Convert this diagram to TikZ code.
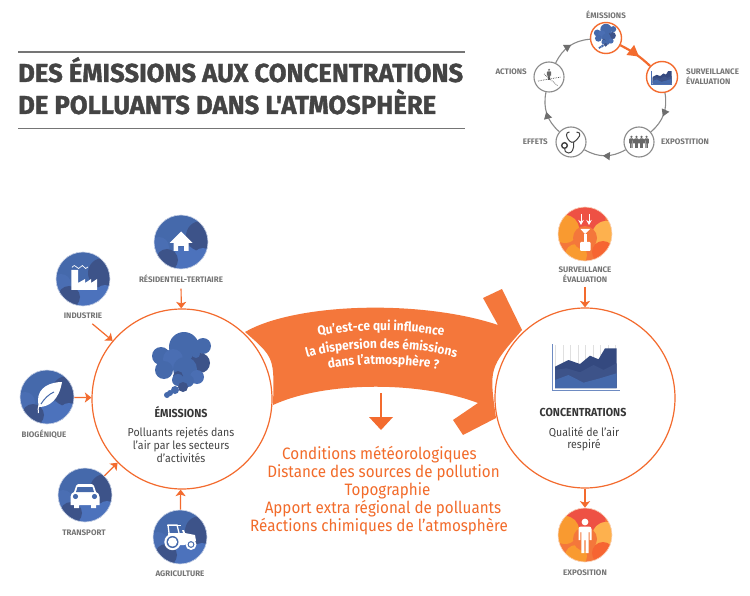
\documentclass[tikz,border=0pt]{standalone}
\usepackage{fontspec}
\setmainfont[FakeStretch=0.92]{Fira Sans}
\newfontfamily\titlefont[FakeStretch=0.987,BoldFeatures={FakeBold=1.4}]{Fira Sans}
\newfontfamily\capfont[FakeStretch=1.0]{Fira Sans}
\usetikzlibrary{arrows.meta,decorations.text,decorations.markings}
\definecolor{orline}{HTML}{F36B2E}
\definecolor{orfill}{HTML}{F4773B}
\definecolor{ortext}{HTML}{F26B2A}
\definecolor{bbase}{HTML}{4569AB}
\definecolor{bdark}{HTML}{3D5389}
\definecolor{bmid}{HTML}{4A6EB3}
\definecolor{blight}{HTML}{4C72BC}
\definecolor{bnavy}{HTML}{34497F}
\definecolor{greytext}{HTML}{757575}
\definecolor{darktext}{HTML}{444444}
\definecolor{ringgrey}{HTML}{8A8A8A}
\definecolor{orred}{HTML}{EE5144}
\definecolor{oramber}{HTML}{F99A30}
\definecolor{orsoft}{HTML}{FDB14E}
\definecolor{orhalo}{HTML}{FBD9C2}
\newcommand\bluepatches{%
  \fill[bmid] (-22,5) circle (10);
  \fill[blight] (5,17) circle (13);
  \fill[bdark] (-14,18) circle (11);
  \fill[bdark] (20,-6) circle (15);
  \fill[bbase] (-8,-20) circle (13);
  \fill[blight] (22,16) circle (10);
}
\newcommand\orangepatches{%
  \fill[orred] (0,-20) circle (21);
  \fill[oramber] (-20,-5) circle (14);
  \fill[orsoft] (21,1) circle (14);
  \fill[orfill!85!red] (18,18) circle (11);
  \fill[oramber] (-9,21) circle (11);
  \fill[orfill] (0,4) circle (12);
}
\newcommand\personfig{%
  \fill (0,-13) circle (3.4);
  \fill (-4,-8.5) -- (4,-8.5) .. controls (5.5,-8.5) and (6.5,-7.5) .. (6.5,-6) -- (6.5,5) -- (4.6,5) -- (4.6,-3) -- (3.6,-3) -- (3.6,18) -- (0.6,18) -- (0.6,5) -- (-0.6,5) -- (-0.6,18) -- (-3.6,18) -- (-3.6,-3) -- (-4.6,-3) -- (-4.6,5) -- (-6.5,5) -- (-6.5,-6) .. controls (-6.5,-7.5) and (-5.5,-8.5) .. (-4,-8.5) -- cycle;
}
\newcommand\cloudfig{%
  \fill[bbase] (-23,-8) circle (9);
  \fill[bbase] (0,-17) circle (15);
  \fill[bbase] (19,-18) circle (8);
  \fill[bmid] (-11,-5) circle (10);
  \fill[bbase] (-20,6) circle (9);
  \fill[bdark] (16,-1) circle (10);
  \fill[bbase] (12,-10) circle (4);
  \fill[bbase] (1,5) circle (12);
  \fill[bmid] (13,13) circle (7);
  \fill[bdark] (-6,12) circle (5);
  \fill[bbase] (-6,16) circle (6);
  \fill[bbase] (4,17) circle (6);
  \fill[bdark] (-1,23) circle (5);
  \fill[bbase] (-9,26) circle (4);
  \fill[bbase] (-14,29) circle (3);
  \fill[bbase] (-17,31) circle (3);
}
\newcommand\chartareas{%
  \fill[bnavy] (-30.5,-0.3) -- (-17,-7) -- (-5.5,-3) -- (4.5,-11.3) -- (13,-7.7) -- (19.5,-18.7) -- (31,-18.7) -- (31,21) -- (-30.5,21) -- cycle;
  \fill[bdark] (-30.5,3) -- (-19,1.3) -- (-5.5,5.3) -- (8,-2) -- (18,3) -- (31,-3.7) -- (31,21) -- (-30.5,21) -- cycle;
  \fill[bbase] (-30.5,13) -- (-17,8) -- (-2,15.7) -- (14.5,11.3) -- (31,6.3) -- (31,21) -- (-30.5,21) -- cycle;
}
\tikzset{
  bluedisc/.style={circle,minimum size=54pt,inner sep=0pt,fill=bbase,draw=bbase!25!white,line width=0.6pt,
    path picture={\begin{scope}[shift={(path picture bounding box.center)}]\bluepatches\end{scope}}},
  orangedisc/.style={circle,minimum size=54pt,inner sep=0pt,fill=orfill,draw=orhalo,line width=0.6pt,
    path picture={\begin{scope}[shift={(path picture bounding box.center)}]\orangepatches\end{scope}}},
  bigring/.style={circle,minimum size=180pt,inner sep=0pt,draw=orline,line width=1.2pt},
  arr/.style={draw=orline,line width=1.2pt,-{Stealth[length=6.5pt,width=10pt,inset=1.5pt]}},
  caplabel/.style={font=\fontsize{8}{10}\capfont\bfseries\selectfont,text=greytext,inner sep=1.5pt,align=center},
  minilabel/.style={font=\fontsize{8}{10}\capfont\bfseries\selectfont,text=greytext,inner sep=0pt,align=left},
  minigrey/.style={circle,minimum size=30pt,inner sep=0pt,draw=ringgrey,fill=white,line width=1.1pt},
  miniorange/.style={circle,minimum size=31pt,inner sep=0pt,draw=orline,fill=white,line width=1.4pt},
  minilink/.style={draw=ringgrey,line width=1.1pt,postaction=decorate,decoration={markings,
    mark=at position 0.55 with {\arrow[ringgrey!80!black]{Triangle[length=7pt,width=8pt]}}}},
  minihot/.style={draw=orline,line width=2.2pt,postaction=decorate,decoration={markings,
    mark=at position 0.6 with {\arrow[orline]{Triangle[length=11pt,width=12pt]}}}},
  oline/.style={anchor=base,font=\fontsize{16.5}{18}\selectfont,text=ortext,inner sep=0pt},
  bodytext/.style={font=\fontsize{11.5}{12.7}\selectfont,text=darktext,align=center,inner sep=0pt},
  headtext/.style={font=\fontsize{11.6}{12}\selectfont\bfseries,text=darktext!80!black,inner sep=0pt},
  titleline/.style={anchor=base west,font=\fontsize{26}{30}\titlefont\bfseries\selectfont,text=darktext,inner sep=0pt},
}
\newcommand\bandfont{\color{white}\fontsize{13}{15}\selectfont\bfseries}
\begin{document}
\begin{tikzpicture}[x=1pt,y=-1pt]
\useasboundingbox (0,0) rectangle (750,596);
\fill[white] (0,0) rectangle (750,596);
% title
\draw[greytext,line width=1.4pt] (18,52) -- (465,52);
\draw[greytext,line width=1.4pt] (18,128.5) -- (465,128.5);
\node[titleline] (t1) at (18,82) {DES ÉMISSIONS AUX CONCENTRATIONS};
\node[titleline] (t2) at (18,114) {DE POLLUANTS DANS L'ATMOSPHÈRE};
% mini cycle
\node[miniorange] (mE) at (606,38) {};
\node[miniorange] (mS) at (662,77) {};
\node[minigrey] (mX) at (639,142) {};
\node[minigrey] (mF) at (571,142) {};
\node[minigrey] (mA) at (549,77) {};
\draw[minihot] (mE) to[bend left=8] (mS);
\draw[minilink] (mS) to[bend left=30] (mX);
\draw[minilink] (mX) to[bend left=30] (mF);
\draw[minilink] (mF) to[bend left=30] (mA);
\draw[minilink] (mA) to[bend left=30] (mE);
\node[minilabel] (lE) at (606,15) {ÉMISSIONS};
\node[minilabel,anchor=west] (lS) at (686,77) {SURVEILLANCE\\ÉVALUATION};
\node[minilabel,anchor=west] (lX) at (661,142) {EXPOSTITION};
\node[minilabel,anchor=east] (lF) at (548,142) {EFFETS};
\node[minilabel,anchor=east] (lA) at (527,72) {ACTIONS};
\begin{scope}[shift={(606,36)},scale=0.38]\cloudfig\end{scope}
\begin{scope}[shift={(662,77)},scale=0.31]
  \chartareas
  \draw[bmid,line width=0.6pt] (-33,-20) -- (-33,22) -- (33,22);
\end{scope}
\begin{scope}[shift={(639,141.5)},scale=0.36,fill=darktext!80!white]
  \begin{scope}[shift={(-21,0)}]\personfig\end{scope}
  \begin{scope}[shift={(-7,0)}]\personfig\end{scope}
  \begin{scope}[shift={(7,0)}]\personfig\end{scope}
  \begin{scope}[shift={(21,0)}]\personfig\end{scope}
\end{scope}
% stethoscope
\begin{scope}[shift={(571.5,142)},draw=darktext,line width=1pt]
  \draw (-2,-10) .. controls (-6,-10) and (-6,-5) .. (-2,-1) .. controls (1,2) and (4,0) .. (8,-6) .. controls (9,-9) and (7,-10) .. (5,-10);
  \draw (2,0) .. controls (3,8) and (0,11) .. (-3,11) .. controls (-6,11) and (-7,9) .. (-7,6);
  \draw[line width=1.4pt,fill=white] (-7,3.5) circle (2.8);
\end{scope}
% actions icon
\begin{scope}[shift={(549,77)}]
  \begin{scope}[shift={(0,-3)},scale=0.32,fill=darktext!80!white]\personfig\end{scope}
  \draw[darktext,line width=0.7pt,densely dotted] (-11,4) -- (12,0);
  \draw[darktext,line width=0.7pt,densely dotted] (-5,-3) -- (9,9);
\end{scope}
% main circles
\node[bigring] (emis) at (182,399) {};
\node[bigring] (conc) at (585,398) {};
% band arrow
\fill[orfill] (245,332) .. controls (295,303) and (420,299) .. (498,325)
  -- (483,298) -- (502,289) -- (522,330)
  .. controls (489,368) .. (496,418)
  -- (463,435) -- (453,420) -- (478,403)
  .. controls (420,381) and (325,381) .. (273,405)
  .. controls (274.4,357.5) .. (245,332) -- cycle;
\path[decorate,decoration={text along path,text align=center,text={|\bandfont|Qu’est-ce qui influence}}]
  (309,338) .. controls (350,328) and (410,328) .. (453,338);
\path[decorate,decoration={text along path,text align=center,text={|\bandfont|la dispersion des émissions}}]
  (298,360) .. controls (345,344.5) and (415,344.5) .. (465,360);
\path[decorate,decoration={text along path,text align=center,text={|\bandfont|dans l’atmosphère ?}}]
  (320,371) .. controls (355,362) and (405,362) .. (447,371);
% down arrow
\coordinate (dTop) at (381,393);
\coordinate (dNeck) at (381,417);
\draw[orline,line width=1.3pt] (dTop) -- (dNeck);
\fill[orline] (369,417) -- (393,417) -- (381,430) -- cycle;
% source discs
\node[bluedisc] (res) at (181,242) {};
\node[bluedisc] (ind) at (83,279) {};
\node[bluedisc] (bio) at (47,397) {};
\node[bluedisc] (tra) at (85,495) {};
\node[bluedisc] (agr) at (180,537) {};
\node[caplabel] (lres) at (181,279) {RÉSIDENTIEL-TERTIAIRE};
\node[caplabel] (lind) at (83,316) {INDUSTRIE};
\node[caplabel] (lbio) at (44,434) {BIOGÉNIQUE};
\node[caplabel] (ltra) at (84,533) {TRANSPORT};
\node[caplabel] (lagr) at (180,574) {AGRICULTURE};
\draw[arr,shorten <=4pt] (lres) -- (emis);
\draw[arr,shorten <=5pt] (lind) -- (emis);
\draw[arr] (bio) -- (emis);
\draw[arr] (tra) -- (emis);
\draw[arr] (agr) -- (emis);
% house
\begin{scope}[shift={(181,242)},fill=white]
  \fill (0,-10.5) -- (11.5,1) -- (7.5,1) -- (7.5,9) -- (3,9) -- (3,4) -- (-3,4) -- (-3,9) -- (-7.5,9) -- (-7.5,1) -- (-11.5,1) -- cycle;
\end{scope}
% factory
\begin{scope}[shift={(83,279)}]
  \fill[white] (-11.7,-9) -- (-5,-9) -- (-5,4) -- (2,0) -- (2,4) -- (8,0) -- (8,4) -- (14,0) -- (14,11) -- (-11.7,11) -- cycle;
  \draw[white,line width=0.7pt] (-11,-11.5) .. controls (-9,-14) and (-8,-14) .. (-6.5,-12) .. controls (-5,-10) and (-4,-10) .. (-2.5,-12) .. controls (-1,-14) and (0,-14) .. (1,-12) .. controls (2,-10) and (3,-10) .. (5,-12);
\end{scope}
% leaf
\begin{scope}[shift={(47,397)}]
  \fill[white] (15,-15) .. controls (4,-15) and (-9,-10) .. (-9,3) .. controls (-9,6) and (-8.5,8) .. (-8,10) .. controls (2,10) and (12,3) .. (15,-15) -- cycle;
  \draw[white,line width=1pt] (-8,8) .. controls (-9,11) and (-9,13) .. (-8.5,16);
  \draw[bbase,line width=1pt] (-6,7) .. controls (-3,2) and (2,-3) .. (7,-5);
\end{scope}
% car
\begin{scope}[shift={(85,495)}]
  \fill[white] (-14.5,2) .. controls (-14.5,-1) and (-13,-2) .. (-11,-3) -- (-9,-9) .. controls (-8.5,-10.5) and (-7,-11) .. (-6,-11) -- (6,-11) .. controls (7,-11) and (8.5,-10.5) .. (9,-9) -- (11,-3) .. controls (13,-2) and (14.5,-1) .. (14.5,2) -- (14.5,10) -- (11,10) -- (11,13) -- (6,13) -- (6,10) -- (-6,10) -- (-6,13) -- (-11,13) -- (-11,10) -- (-14.5,10) -- cycle;
  \fill[bbase] (-7.5,-8) -- (7.5,-8) -- (9,-3) -- (-9,-3) -- cycle;
  \fill[bbase] (-9.5,1.5) circle (2.6);
  \fill[bbase] (9.5,1.5) circle (2.6);
\end{scope}
% tractor
\begin{scope}[shift={(180,537)}]
  \draw[white,line width=1.3pt] (-11,-4) -- (-12,-12) -- (-3,-12) -- (-1,-4);
  \fill[white] (-13,-12.5) -- (1,-12.5) -- (1,-11) -- (-13,-11) -- cycle;
  \fill[white] (-12,-4) -- (3,-4) -- (2,-7) -- (4,-7) -- (5,-4) -- (15,-2) -- (16,4) -- (4,8) -- (-2,8) -- (-12,0) -- cycle;
  \fill[white] (-7.5,5) circle (8.2);
  \fill[bbase] (-7.5,5) circle (6);
  \fill[white] (-7.5,5) circle (4.6);
  \fill[white] (11,7.5) circle (5.5);
  \fill[bbase] (11,7.5) circle (3.4);
  \fill[white] (11,7.5) circle (2.2);
\end{scope}
% cloud and central text
\begin{scope}[shift={(184,364)}]\cloudfig\end{scope}
\node[headtext] (hE) at (181,412) {ÉMISSIONS};
\node[bodytext] (bE) at (181,445) {Polluants rejetés dans\\l’air par les secteurs\\d’activités};
% chart
\begin{scope}[shift={(585.5,367)}]
  \draw[black!12,line width=0.5pt] (-32,-22) grid[step=7.5] (33,21);
  \chartareas
  \draw[bmid!80!white,line width=1pt] (-33,-23) -- (-33,23) -- (34,23);
\end{scope}
\node[headtext] (hC) at (583,412) {CONCENTRATIONS};
\node[bodytext] (bC) at (584,439) {Qualité de l'air\\respiré};
% right discs
\node[orangedisc] (sur) at (585,234) {};
\node[orangedisc] (exp) at (585,535) {};
\node[caplabel] (lsur) at (585,275) {SURVEILLANCE\\ÉVALUATION};
\node[caplabel] (lexp) at (585,573) {EXPOSITION};
\draw[arr,shorten <=2pt] (lsur) -- (conc);
\draw[arr] (conc) -- (exp);
% monitor icon
\begin{scope}[shift={(585,234)}]
  \draw[white,line width=1pt,-{Stealth[length=5pt,width=5.5pt]}] (-4,-20) -- (-4,-9);
  \draw[white,line width=1pt,-{Stealth[length=5pt,width=5.5pt]}] (4,-20) -- (4,-9);
  \fill[white] (-4.5,-5) -- (5,-5) -- (0,0) -- cycle;
  \fill[white] (-1.5,0) -- (1.5,0) -- (1.5,8) -- (-1.5,8) -- cycle;
  \fill[white,rounded corners=1pt] (-5,8) rectangle (5.5,17);
\end{scope}
\begin{scope}[shift={(585,535)},fill=white]\personfig\end{scope}
% orange list
\node[oline] (o1) at (379.5,459) {Conditions météorologiques};
\node[oline] (o2) at (383.5,477) {Distance des sources de pollution};
\node[oline] (o3) at (387.5,495) {Topographie};
\node[oline] (o4) at (383,513) {Apport extra régional de polluants};
\node[oline] (o5) at (379,531) {Réactions chimiques de l’atmosphère};
\end{tikzpicture}
\end{document}
